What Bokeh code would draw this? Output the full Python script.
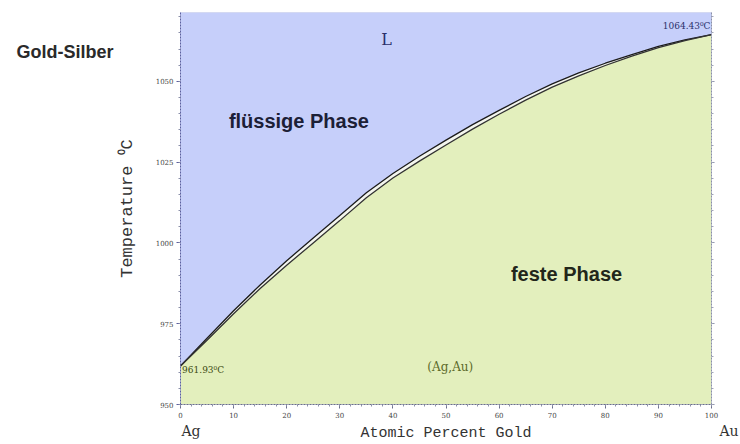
from bokeh.plotting import figure
from bokeh.models import Label, LinearAxis, Range1d, FixedTicker, ColumnDataSource
from bokeh.embed import file_html
from bokeh.resources import INLINE

# Atomic percent gold
x_pct = [0, 5, 10, 15, 20, 25, 30, 35, 40, 45, 50, 55, 60, 65, 70, 75, 80, 85, 90, 95, 100]
# Liquidus temperature (°C)
liquidus = [961.93, 970.5, 979.0, 987.0, 994.5, 1001.5, 1008.5, 1015.5, 1021.5, 1026.8, 1031.8,
            1036.6, 1041.0, 1045.3, 1049.2, 1052.6, 1055.6, 1058.3, 1060.8, 1062.8, 1064.43]
# Solidus temperature (°C)
solidus = [961.93, 969.9, 978.1, 985.9, 993.1, 1000.0, 1006.9, 1014.0, 1020.1, 1025.3, 1030.3,
           1035.2, 1039.8, 1044.2, 1048.2, 1051.7, 1054.9, 1057.8, 1060.4, 1062.6, 1064.43]

y_ticks = [950, 975, 1000, 1025, 1050]
x_ticks = [0, 10, 20, 30, 40, 50, 60, 70, 80, 90, 100]
# leading spaces shift the centred names to the right of their ticks
end_labels = {0: "\u2003\u2002Ag", 100: "\u2003\u2003\u2002Au"}
T_MIN, T_MAX = 950, 1071.3

src = ColumnDataSource(dict(x=x_pct, liq=liquidus, sol=solidus,
                            top=[T_MAX] * len(x_pct), bot=[T_MIN] * len(x_pct)))

p = figure(width=740, height=444, output_backend="svg", toolbar_location=None,
           x_range=Range1d(0, 100), y_range=Range1d(T_MIN, T_MAX),
           min_border_left=180, min_border_right=29, min_border_top=12, min_border_bottom=39,
           x_axis_location=None, y_axis_location=None)
p.grid.visible = False
p.outline_line_color = "#d8dcef"
p.background_fill_color = "#f4f6ee"

p.varea(x="x", y1="liq", y2="top", source=src, fill_color="#c6cffa")
p.varea(x="x", y1="bot", y2="sol", source=src, fill_color="#e3efbd")
p.line(x="x", y="liq", source=src, line_color="#1b1b1b", line_width=1.3)
p.line(x="x", y="sol", source=src, line_color="#333333", line_width=1.3)

serif = "DejaVu Serif"
mono = "Liberation Mono"

def style_ticks(ax, color="#6a6f8a", minor="#8a8fa8"):
    ax.axis_line_color = color
    ax.axis_line_dash = "2 1"
    ax.major_tick_line_color = color
    ax.minor_tick_line_color = minor
    ax.major_tick_out = 4
    ax.major_tick_in = 0
    ax.minor_tick_out = 2
    ax.minor_tick_in = 0
    ax.major_label_text_font = serif
    ax.major_label_text_font_size = "7px"
    ax.major_label_text_color = "#444444"
    ax.major_label_standoff = 3

xa = LinearAxis(ticker=FixedTicker(ticks=x_ticks, minor_ticks=list(range(0, 101, 2))))
style_ticks(xa)
p.add_layout(xa, "below")

# second bottom row: element names and the axis title
xn = LinearAxis(ticker=FixedTicker(ticks=[0, 100], minor_ticks=[]),
                major_label_overrides=end_labels, axis_label="Atomic Percent Gold")
xn.axis_line_color = None
xn.major_tick_line_color = None
xn.minor_tick_line_color = None
xn.major_tick_out = 0
xn.major_tick_in = 0
xn.major_label_text_font = serif
xn.major_label_text_font_size = "14px"
xn.major_label_text_color = "#333333"
xn.major_label_standoff = 2
xn.axis_label_text_font = mono
xn.axis_label_text_font_style = "normal"
xn.axis_label_text_font_size = "15px"
xn.axis_label_text_color = "#333333"
xn.axis_label_standoff = -17
p.add_layout(xn, "below")

ya = LinearAxis(ticker=FixedTicker(ticks=y_ticks, minor_ticks=list(range(950, 1072, 5))),
                axis_label="Temperature \u2070C")
style_ticks(ya, color="#5a5fa0")
ya.axis_label_text_font = mono
ya.axis_label_text_font_style = "normal"
ya.axis_label_text_font_size = "17px"
ya.axis_label_text_color = "#333333"
ya.axis_label_standoff = 16
p.add_layout(ya, "left")

# heading at the upper left, carried by a bare axis
yn = LinearAxis(ticker=FixedTicker(ticks=[1059], minor_ticks=[]),
                major_label_overrides={1059: "Gold-Silber"})
yn.axis_line_color = None
yn.major_tick_line_color = None
yn.minor_tick_line_color = None
yn.major_tick_out = 0
yn.major_tick_in = 0
yn.major_label_text_font = "Liberation Sans"
yn.major_label_text_font_style = "bold"
yn.major_label_text_font_size = "18px"
yn.major_label_text_color = "#2a2a2a"
yn.major_label_standoff = 1
p.add_layout(yn, "left")

ra = LinearAxis(ticker=FixedTicker(ticks=y_ticks, minor_ticks=list(range(950, 1072, 5))),
                major_label_overrides={t: "" for t in y_ticks})
style_ticks(ra, color="#8a8fa8", minor="#a0a4b8")
ra.major_tick_out = 3
p.add_layout(ra, "right")

def lab(x, y, text, size, color, font="Liberation Sans", style="normal", align="left"):
    p.add_layout(Label(x=x, y=y, text=text, text_font=font, text_font_size=size,
                       text_color=color, text_font_style=style, text_align=align,
                       text_baseline="middle"))

lab(38.8, 1062.8, "L", "16px", "#2a2f6a", font=serif, align="center")
lab(22.3, 1037.7, "flüssige Phase", "20px", "#1c2036", style="bold", align="center")
lab(72.7, 990.5, "feste Phase", "20px", "#22261a", style="bold", align="center")
lab(50.8, 961.7, "(Ag,Au)", "12px", "#5c6a2a", font=serif, align="center")
lab(0.3, 960.8, "961.93\u2070C", "9px", "#3c4a10", font=serif)
lab(99.8, 1067.0, "1064.43\u2070C", "9px", "#2a2f6a", font=serif, align="right")

open("out.html", "w").write(file_html(p, INLINE))
